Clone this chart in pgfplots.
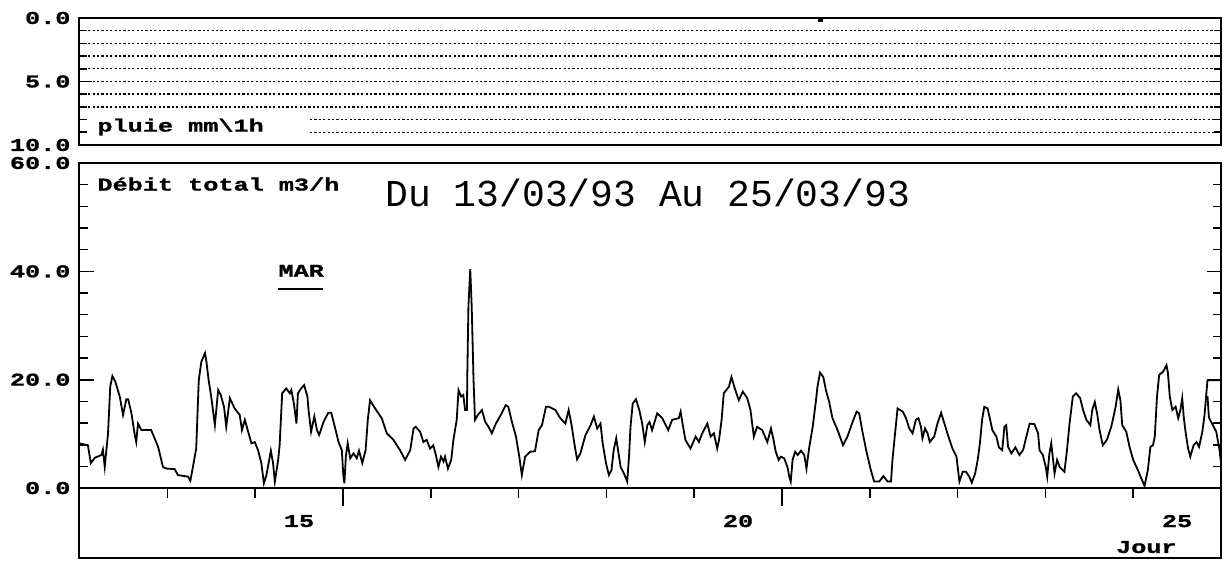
\documentclass[border=0pt]{standalone}
\usepackage{fontspec}
\usepackage{pgfplots}
\pgfplotsset{compat=1.18}
\newfontfamily\labfont[FakeStretch=1.4,FakeBold=1.2]{Liberation Mono Bold}
\newfontfamily\titfont{Liberation Mono}
\newcommand\lab{\labfont\fontsize{9}{10}\selectfont}

\pgfplotstableread{
h v
0 8.25
2.3 7.9
3.1 4.6
4.2 5.6
6.0 6.1
6.4 7.1
6.9 3.9
7.8 10.1
8.4 18.7
9.0 20.7
9.8 19.6
11.0 16.9
11.9 13.5
12.8 16.4
13.3 16.4
14.2 13.8
15.1 9.8
15.5 8.5
16.0 11.9
16.9 10.7
19.6 10.7
21.5 7.6
22.8 3.9
23.7 3.6
26.0 3.5
26.9 2.4
29.7 2.1
30.3 1.35
31.0 3.9
31.9 7.3
32.6 19.9
33.3 23.3
34.3 24.9
34.7 23.3
35.3 19.9
36.0 16.9
37.0 11.6
37.9 18.1
38.6 17.2
39.5 15.0
40.1 11.3
41.1 16.6
42.4 14.7
43.8 13.5
44.4 10.7
45.2 12.6
46.1 10.4
47.0 8.25
47.9 8.5
48.8 7.0
49.7 4.6
50.4 0.9
51.1 2.4
52.3 6.9
52.9 4.6
53.4 1.2
54.3 5.2
54.7 7.9
55.4 17.5
56.5 18.4
57.5 17.5
57.9 18.1
58.6 15.6
59.3 11.9
59.7 17.5
60.6 18.4
61.4 19.0
62.3 16.9
62.6 14.4
63.3 10.4
64.2 13.2
64.9 10.7
65.5 9.8
66.7 12.2
68.0 13.9
68.8 13.9
69.9 11.0
70.8 8.5
71.7 7.0
72.1 2.4
72.4 0.9
72.8 5.8
73.3 8.25
74.0 5.5
74.9 6.4
75.8 5.5
76.4 6.9
77.3 4.6
78.2 7.0
78.8 12.6
79.4 16.2
80.8 14.7
82.6 12.9
84.0 10.1
85.8 8.9
87.6 7.0
89.0 5.2
90.4 7.0
91.3 11.0
91.9 11.3
93.1 10.4
94.0 8.5
94.9 8.9
95.8 7.3
96.7 7.9
97.4 6.1
98.1 3.9
98.8 5.8
99.5 4.9
99.9 5.8
100.7 3.6
101.6 5.2
102.2 8.9
103.1 12.6
103.6 18.1
104.3 16.9
104.9 17.2
105.4 14.4
105.9 14.4
106.0 21.0
106.3 33.5
106.8 40.4
107.2 33.5
107.7 19.9
108.1 12.6
108.9 13.5
110.0 14.4
110.9 12.2
111.8 11.3
112.7 10.1
113.8 11.9
115.4 13.8
116.5 15.3
117.2 15.0
118.2 12.2
119.3 9.5
120.2 5.8
120.9 2.4
121.8 5.8
123.2 6.7
124.5 6.8
125.5 10.7
126.4 11.6
127.5 15.0
128.3 15.0
130.1 14.4
131.4 12.9
132.8 11.9
133.7 14.4
134.5 11.6
135.4 7.6
136.0 5.3
136.9 6.4
138.3 9.8
139.7 11.6
140.6 13.2
141.5 11.0
142.4 11.9
143.0 8.25
143.9 4.6
144.7 2.4
145.4 3.3
146.0 7.0
146.7 9.2
147.2 7.0
147.9 3.9
148.8 2.7
149.7 1.2
150.2 5.8
150.6 11.3
151.2 15.6
152.1 16.4
153.0 14.4
153.8 11.9
154.5 8.5
155.2 11.6
155.8 12.2
156.5 10.7
157.9 13.8
159.3 12.9
160.9 10.7
162.0 12.6
163.8 12.9
164.3 14.1
164.9 11.6
165.6 8.9
167.0 7.3
168.4 9.5
169.3 8.5
170.2 10.1
171.6 11.9
172.5 9.5
173.4 10.1
174.3 7.3
174.8 8.9
175.5 12.6
176.1 17.5
177.5 18.7
178.2 20.5
179.1 18.4
180.2 16.2
181.3 17.8
182.5 16.6
183.4 14.4
184.3 9.5
185.2 11.3
186.6 10.7
188.0 8.5
189.0 11.0
189.6 9.2
190.3 6.7
191.1 5.2
191.7 5.8
192.6 5.5
193.5 3.9
194.0 2.1
194.4 1.2
194.9 5.2
195.6 6.7
196.3 6.1
197.2 6.9
198.1 6.1
198.7 3.6
199.4 7.3
200.4 11.3
201.3 16.2
201.7 18.7
202.4 21.3
203.3 20.5
204.0 18.1
204.9 15.9
205.8 12.9
207.2 10.7
208.7 7.9
209.9 9.5
211.3 12.2
212.4 14.1
213.1 13.8
214.0 10.4
215.1 6.7
216.3 3.3
217.2 1.2
218.6 1.2
219.7 2.2
220.9 1.2
221.8 1.2
222.2 5.2
223.0 10.7
223.6 14.7
225.0 14.1
225.9 12.9
226.8 11.0
227.7 10.1
228.6 12.6
229.3 12.9
230.0 11.3
230.4 9.2
231.1 11.0
231.8 10.1
232.4 8.5
233.6 9.5
234.5 11.9
235.5 13.9
236.4 11.9
237.5 9.5
238.6 7.3
239.7 5.8
240.5 1.2
241.4 3.0
242.3 3.0
243.2 2.1
243.9 1.0
244.8 2.7
245.5 5.2
246.1 8.25
246.7 12.6
247.3 15.0
248.2 14.7
248.9 12.6
249.5 10.7
250.6 9.5
251.3 7.5
252.2 7.0
252.8 11.3
253.3 11.6
253.8 7.6
254.7 6.4
255.8 7.5
256.9 6.1
257.9 7.0
258.8 9.5
259.7 11.9
261.0 11.8
262.0 10.1
262.4 7.0
263.3 6.1
264.1 3.9
264.5 2.1
265.1 6.4
265.6 8.25
266.1 5.2
266.5 2.7
267.2 5.2
267.9 3.9
269.2 3.0
269.9 7.0
270.6 11.9
271.5 16.9
272.4 17.5
273.5 16.6
274.3 14.4
275.2 12.6
276.3 11.6
276.8 14.4
277.5 15.9
278.2 13.5
278.8 10.7
279.7 7.9
280.8 8.9
282.0 11.3
283.2 15.0
283.9 18.2
284.5 16.2
285.0 11.6
286.1 10.4
287.0 7.6
288.0 5.2
289.3 3.3
290.2 1.8
291.1 0.4
292.0 3.3
292.7 7.6
293.4 7.9
293.9 9.5
294.5 16.9
295.1 20.9
296.2 21.5
297.1 22.7
297.5 21.2
298.0 16.9
298.7 14.4
299.6 15.0
300.3 12.9
300.9 14.4
301.4 16.6
301.8 13.2
302.3 10.4
303.0 7.3
303.6 5.8
304.5 7.9
305.3 8.5
306.0 7.6
306.9 10.4
307.5 13.5
308.0 17.5
308.3 19.9
312 19.9
}\debit

\pgfplotstableread{
h v
308.3 17.0
308.7 13.0
310.7 10.4
311.6 7.0
312 4.6
}\debittail

\begin{document}
\begin{tikzpicture}
\path[use as bounding box] (0,0) rectangle (613pt,280.5pt);
% ---- rain panel ----
\begin{axis}[
  scale only axis, at={(39.75pt,208pt)}, anchor=south west,
  width=570.75pt, height=63.5pt,
  xmin=0, xmax=312, ymin=0, ymax=10, y dir=reverse,
  xtick=\empty,
  ytick={0,5,10}, minor ytick={1,2,3,4,6,7,8,9},
  tick align=inside, major tick length=6pt, minor tick length=3.5pt,
  every tick/.style={black, line width=0.8pt},
  axis line style={line width=1pt},
  yticklabel style={font=\lab, xshift=-1pt},
  /pgf/number format/fixed, /pgf/number format/fixed zerofill,
  /pgf/number format/precision=1, /pgf/number format/assume math mode=true,
  clip=false,
]
\addplot[black, line width=0.7pt, dash pattern=on 1.1pt off 1.1pt, mark=none] coordinates {(0,1) (312,1)};
\addplot[black, line width=0.7pt, dash pattern=on 1.1pt off 1.1pt, mark=none] coordinates {(0,2) (312,2)};
\addplot[black, line width=0.7pt, dash pattern=on 1.1pt off 1.1pt, mark=none] coordinates {(0,3) (312,3)};
\addplot[black, line width=0.7pt, dash pattern=on 1.1pt off 1.1pt, mark=none] coordinates {(0,4) (312,4)};
\addplot[black, line width=0.7pt, dash pattern=on 1.1pt off 1.1pt, mark=none] coordinates {(0,5) (312,5)};
\addplot[black, line width=0.7pt, dash pattern=on 1.1pt off 1.1pt, mark=none] coordinates {(0,6) (312,6)};
\addplot[black, line width=0.7pt, dash pattern=on 1.1pt off 1.1pt, mark=none] coordinates {(0,7) (312,7)};
\addplot[black, line width=0.7pt, dash pattern=on 1.1pt off 1.1pt, mark=none] coordinates {(63,8) (312,8)};
\addplot[black, line width=0.7pt, dash pattern=on 1.1pt off 1.1pt, mark=none] coordinates {(63,9) (312,9)};
\addplot[ycomb, black, line width=2.5pt, mark=none] coordinates {(202.5,0.35)};
\addplot[ycomb, black, line width=1pt, mark=none] coordinates {(228.4,0.1)};
\node[anchor=west, inner sep=0pt, font=\lab] at (axis cs:4.8,8.58) {pluie mm\textbackslash 1h};
\end{axis}
% ---- flow panel ----
\begin{axis}[
  scale only axis, at={(39.75pt,1.25pt)}, anchor=south west,
  width=570.75pt, height=197.75pt,
  xmin=0, xmax=312, ymin=-13, ymax=60,
  xtick=\empty,
  ytick={0,20,40,60}, minor ytick={4,8,12,16,24,28,32,36,44,48,52,56},
  tick align=inside, major tick length=7pt, minor tick length=4pt,
  every tick/.style={black, line width=0.8pt},
  axis line style={line width=1pt},
  yticklabel style={font=\lab, xshift=-1pt},
  /pgf/number format/fixed, /pgf/number format/fixed zerofill,
  /pgf/number format/precision=1, /pgf/number format/assume math mode=true,
  clip=false,
]
\addplot[black, line width=1pt, mark=none] coordinates {(0,0) (312,0)};
\addplot[ycomb, black, line width=0.8pt, mark=none] coordinates {
 (24,-1.8) (48,-1.8) (96,-1.8) (120,-1.8) (144,-1.8) (168,-1.8)
 (216,-1.8) (240,-1.8) (264,-1.8) (288,-1.8) (72,-3.4) (192,-3.4)};
\addplot[black, line width=0.9pt, mark=none] table[x=h, y=v] {\debit};
\addplot[black, line width=0.9pt, mark=none] table[x=h, y=v] {\debittail};
\node[anchor=west, inner sep=0pt, font=\lab] at (axis cs:4.8,56.1) {Débit total m3/h};
\node[inner sep=0pt, font=\titfont\fontsize{19}{20}\selectfont] at (axis cs:155.3,54.5) {Du 13/03/93 Au 25/03/93};
\node[inner sep=0pt, font=\lab] at (axis cs:60.6,40.1) {MAR};
\draw[line width=0.8pt] (axis cs:54.3,36.7) -- (axis cs:66.6,36.7);
\node[inner sep=0pt, font=\lab] at (axis cs:60,-6.1) {15};
\node[inner sep=0pt, font=\lab] at (axis cs:180,-6.1) {20};
\node[inner sep=0pt, font=\lab] at (axis cs:300,-6.1) {25};
\node[inner sep=0pt, font=\lab] at (axis cs:291.6,-10.9) {Jour};
\end{axis}
\end{tikzpicture}
\end{document}
